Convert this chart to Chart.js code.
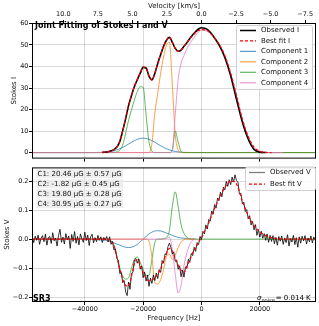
<!DOCTYPE html>
<html>
<head>
<meta charset="utf-8">
<script src="https://cdn.jsdelivr.net/npm/chart.js@4.4.1/dist/chart.umd.min.js"></script>
<style>
  html, body { margin: 0; padding: 0; background: #fff; }
  #wrap { position: relative; width: 319px; height: 326px; }
  canvas { position: absolute; left: 0; }
  #topChart { top: 0; }
  #botChart { top: 163px; }
</style>
</head>
<body>
<div id="wrap">
  <canvas id="topChart" width="319" height="163" style="width:319px;height:163px"></canvas>
  <canvas id="botChart" width="319" height="163" style="width:319px;height:163px"></canvas>
</div>
<script>
// ---- data ----
const fMin = -58100, fMax = 39250;          // frequency range of the axes [Hz]
const HZ_TO_KMS = 299792.458 / 1420405751.77; // HI line: km/s per Hz
const freqTicks = [-40000, -20000, 0, 20000];

// frequency grid for the smooth curves [Hz]
const freqGrid = [-58100, -40000, -34000, -32000, -31000, -30000, -29000, -28000, -27000, -26000,
  -25000, -24000, -23000, -22000, -21000, -20000, -19000, -18000, -17000, -16000,
  -15000, -14000, -13000, -12000, -11000, -10000, -9000, -8000, -7000, -6000,
  -5000, -4000, -3000, -2000, -1000, 0, 2000, 4000, 6000, 8000,
  10000, 12000, 14000, 16000, 18000, 20000, 22000, 24000, 28000, 39250];

// Stokes I
const obsI = [null, null, 0.1, 0.4, 0.8, 1.4, 2.6, 5.2, 10.2, 15.8,
  21.8, 26.5, 30.7, 33.9, 36.9, 39.6, 39.3, 35.5, 33.8, 36.8,
  41.4, 45.5, 49.4, 52.2, 53.5, 51.2, 48.4, 47.1, 47.6, 49.4,
  51, 53, 54.7, 56.2, 57.4, 58, 57.2, 54.2, 50, 44.2,
  35.7, 24.7, 14.2, 6.3, 1.5, 0.2, 0, null, null, null];
const fitI = [null, null, 0.1, 0.4, 0.8, 1.4, 2.6, 5.2, 10.2, 15.8,
  21.8, 26.5, 30.7, 33.9, 36.9, 39.7, 39.5, 35.6, 33.7, 36.8,
  41.4, 45.5, 49.4, 52.3, 53.7, 51.2, 48.3, 47, 47.6, 49.3,
  51, 52.9, 54.4, 55.8, 56.7, 57.1, 56.6, 54.1, 50.5, 45,
  36.8, 26.5, 15.5, 7.5, 2.5, 0.6, 0.1, 0, null, null];
const comp1I = [0, 0, 0.11, 0.33, 0.54, 0.83, 1.24, 1.77, 2.4, 3.17,
  3.97, 4.8, 5.53, 6.17, 6.56, 6.7, 6.56, 6.17, 5.53, 4.8,
  3.97, 3.17, 2.4, 1.77, 1.24, 0.83, 0.54, 0.33, 0.2, 0.11,
  0.06, 0.03, 0.01, 0, 0, 0, 0, 0, 0, 0,
  0, 0, 0, 0, 0, 0, 0, 0, 0, 0];
const comp2I = [0, 0, 0, 0, 0, 0, 0, 0, 0, 0,
  0, 0, 0, 0, 0, 0, 0, 0, 4, 18.4,
  27.5, 37, 44.4, 50, 51.3, 31.5, 8.5, 1.2, 0.1, 0,
  0, 0, 0, 0, 0, 0, 0, 0, 0, 0,
  0, 0, 0, 0, 0, 0, 0, 0, 0, 0];
const comp3I = [0, 0, 0, 0, 0, 0.05, 0.3, 1.1, 3.5, 9,
  15, 19.8, 24.5, 28.3, 30.6, 30.4, 17.4, 5, 0.7, 0,
  0, 0, 0, 0, 0, 1.3, 10, 5, 0.5, 0,
  0, 0, 0, 0, 0, 0, 0, 0, 0, 0,
  0, 0, 0, 0, 0, 0, 0, 0, 0, 0];
const comp4I = [0, 0, 0, 0, 0, 0, 0, 0, 0, 0,
  0, 0, 0, 0, 0, 0, 0, 0, 0, 0,
  0, 0, 0, 0, 0, 1, 17.7, 34, 41.5, 45,
  48.3, 50.6, 52.7, 54.5, 56, 56.9, 56.4, 54, 50.5, 45,
  36.8, 26.5, 15.5, 7.5, 2.5, 0.6, 0.1, 0, 0, null];

// Stokes V
const fitV = [0, 0, 0, -0.002, -0.007, -0.025, -0.063, -0.104, -0.138, -0.16,
  -0.162, -0.128, -0.085, -0.071, -0.09, -0.115, -0.135, -0.143, -0.141, -0.134,
  -0.12, -0.102, -0.075, -0.048, -0.032, -0.042, -0.065, -0.09, -0.108, -0.114,
  -0.093, -0.07, -0.046, -0.03, -0.01, 0.005, 0.045, 0.095, 0.14, 0.178,
  0.2, 0.19, 0.132, 0.082, 0.047, 0.025, 0.012, 0.005, 0, 0];
const comp1V = [0, 0, -0.003, -0.006, -0.009, -0.013, -0.017, -0.021, -0.025, -0.028,
  -0.029, -0.028, -0.024, -0.018, -0.009, 0, 0.009, 0.018, 0.024, 0.028,
  0.029, 0.028, 0.025, 0.021, 0.017, 0.013, 0.009, 0.006, 0.004, 0.003,
  0.002, 0.001, 0, 0, null, null, null, null, null, null,
  null, null, null, null, null, null, null, null, null, null];
const comp2V = [0, 0, 0, 0, 0, 0, 0, 0, 0, 0,
  0, 0, 0, 0, 0, 0, 0, -0.008, -0.06, -0.15,
  -0.155, -0.14, -0.105, -0.06, -0.052, -0.07, -0.055, -0.03, -0.01, -0.002,
  0, 0, 0, 0, null, null, null, null, null, null,
  null, null, null, null, null, null, null, null, null, null];
const comp3V = [0, 0, 0, 0, -0.005, -0.02, -0.06, -0.1, -0.127, -0.138,
  -0.134, -0.1, -0.07, -0.062, -0.08, -0.105, -0.125, -0.125, -0.07, -0.012,
  0, 0, 0.002, 0.006, 0.03, 0.113, 0.163, 0.113, 0.05, 0.02,
  0.006, 0.001, 0, 0, 0, 0, 0, 0, 0, 0,
  0, 0, 0, 0, 0, 0, 0, 0, 0, 0];
const comp4V = [0, 0, 0, 0, 0, 0, 0, 0, 0, 0,
  0, 0, 0, 0, 0, 0, 0, 0, 0, 0,
  0, 0, 0, 0.002, 0.006, -0.036, -0.12, -0.186, -0.16, -0.092,
  -0.048, -0.018, -0.004, 0, null, null, null, null, null, null,
  null, null, null, null, null, null, null, null, null, null];

// observed V channels: start -58000 Hz, 500 Hz apart
const obsVStart = -58000, obsVStep = 500;
const obsV = [
  0.006, -0.012, 0.01, -0.004, 0.014, -0.018, 0.003, 0.012, -0.009, 0.017,
  -0.021, 0.005, 0.009, -0.015, 0.022, -0.006, 0.004, -0.024, 0.013, 0.034,
  -0.011, 0.007, -0.017, 0.019, -0.003, 0.011, -0.032, 0.016, -0.008, 0.026,
  -0.014, 0.009, -0.02, 0.018, 0.002, -0.011, 0.024, -0.005, 0.014, -0.022,
  0.008, 0.017, -0.013, 0.005, -0.009, 0.013, -0.004, 0.008, -0.012, 0.006,
  -0.003, 0.009, -0.01, 0.008, -0.018, -0.008, -0.038, -0.034, -0.067, -0.073,
  -0.119, -0.116, -0.15, -0.143, -0.182, -0.195, -0.148, -0.173, -0.118, -0.114,
  -0.072, -0.067, -0.083, -0.069, -0.104, -0.093, -0.133, -0.114, -0.145, -0.124,
  -0.163, -0.135, -0.153, -0.124, -0.143, -0.117, -0.136, -0.105, -0.115, -0.074,
  -0.083, -0.051, -0.054, -0.026, -0.014, -0.028, -0.052, -0.044, -0.077, -0.073,
  -0.104, -0.092, -0.13, -0.107, -0.131, -0.096, -0.101, -0.069, -0.08, -0.05,
  -0.057, -0.028, -0.042, -0.012, -0.019, 0.009, -0.001, 0.027, 0.018, 0.049,
  0.035, 0.068, 0.062, 0.097, 0.086, 0.119, 0.107, 0.142, 0.133, 0.162,
  0.146, 0.179, 0.17, 0.199, 0.182, 0.205, 0.188, 0.214, 0.197, 0.222,
  0.202, 0.196, 0.156, 0.158, 0.122, 0.128, 0.095, 0.102, 0.07, 0.081,
  0.049, 0.061, 0.032, 0.05, 0.013, 0.033, 0.007, 0.027, 0.003, 0.019,
  -0.004, 0.018, -0.011, 0.013, -0.008, 0.012, -0.016, 0.006, -0.021, 0.009,
  -0.007, 0.011, -0.018, 0.004, -0.012, 0.015, -0.024, 0.002, -0.01, 0.013,
  -0.019, 0.005, -0.028, 0.008, -0.014, 0.01, -0.006, 0.012, -0.017, 0.004,
  -0.009, 0.011, -0.013, 0.007, -0.004
];

const fieldLines = ['C1: 20.46 \u03bcG \u00b1 0.57 \u03bcG', 'C2: -1.82 \u03bcG \u00b1 0.45 \u03bcG',
  'C3: 19.80 \u03bcG \u00b1 0.28 \u03bcG', 'C4: 30.95 \u03bcG \u00b1 0.27 \u03bcG'];

// ---- styles ----
const FONT = '"DejaVu Sans", sans-serif';
const C_BLUE = 'rgba(31,119,180,0.75)', C_ORANGE = 'rgba(255,127,14,0.75)';
const C_GREEN = 'rgba(44,160,44,0.75)', C_PINK = 'rgba(227,119,194,0.75)';
const GRID = 'rgba(0,0,0,0.15)';

Chart.defaults.font.family = FONT;
Chart.defaults.font.size = 6.5;
Chart.defaults.color = '#111';

const pts = (xs, ys) => xs.map((x, i) => ({ x: x, y: ys[i] }));
const obsVFreq = obsV.map((_, i) => obsVStart + i * obsVStep);

function line(label, xs, ys, color, width, order, dash) {
  return {
    label: label, data: pts(xs, ys), borderColor: color, borderWidth: width,
    borderDash: dash || [], pointRadius: 0, fill: false, order: order,
    cubicInterpolationMode: 'monotone', spanGaps: false
  };
}

const minus = s => s.replace('-', '\u2212');
// frequency axes get their ticks from freqTicks (stepSize misbehaves with these bounds)
const setFreqTicks = s => { s.ticks = freqTicks.map(v => ({ value: v })); };

// frame round the plotting area
const frame = {
  id: 'frame',
  afterDraw(chart) {
    const { ctx, chartArea: a } = chart;
    ctx.save();
    ctx.strokeStyle = '#000';
    ctx.lineWidth = 1;
    ctx.strokeRect(a.left + 0.5, a.top + 0.5, a.right - a.left - 1, a.bottom - a.top - 1);
    ctx.restore();
  }
};

function drawLegend(ctx, box, rows) {
  ctx.save();
  ctx.fillStyle = 'rgba(255,255,255,0.85)';
  ctx.strokeStyle = '#d0d0d0';
  ctx.lineWidth = 1;
  ctx.beginPath();
  ctx.roundRect(box.x + 0.5, box.y + 0.5, box.w, box.h, 2);
  ctx.fill();
  ctx.stroke();
  ctx.font = '7px ' + FONT;
  ctx.textBaseline = 'middle';
  rows.forEach((r, i) => {
    const y = box.y + box.first + i * box.gap;
    ctx.strokeStyle = r.color;
    ctx.lineWidth = r.width;
    ctx.setLineDash(r.dash || []);
    ctx.beginPath();
    ctx.moveTo(box.x + 4, y);
    ctx.lineTo(box.x + 20, y);
    ctx.stroke();
    ctx.setLineDash([]);
    ctx.fillStyle = '#111';
    ctx.fillText(r.label, box.x + 25, y);
  });
  ctx.restore();
}

const topDecor = {
  id: 'topDecor',
  afterDraw(chart) {
    const ctx = chart.ctx;
    ctx.save();
    ctx.font = 'bold 8px ' + FONT;
    ctx.fillStyle = '#000';
    ctx.textBaseline = 'middle';
    ctx.fillText('Joint Fitting of Stokes I and V', 35, 26);
    ctx.restore();
    drawLegend(ctx, { x: 236, y: 25, w: 76, h: 64, first: 5.5, gap: 10.45 }, [
      { label: 'Observed I', color: '#000', width: 1.5 },
      { label: 'Best fit I', color: '#ff0000', width: 1.2, dash: [3, 2] },
      { label: 'Component 1', color: C_BLUE, width: 1.2 },
      { label: 'Component 2', color: C_ORANGE, width: 1.2 },
      { label: 'Component 3', color: C_GREEN, width: 1.2 },
      { label: 'Component 4', color: C_PINK, width: 1.2 }
    ]);
  }
};

const botDecor = {
  id: 'botDecor',
  afterDraw(chart) {
    const ctx = chart.ctx;
    ctx.save();
    ctx.font = '7px ' + FONT;
    ctx.textBaseline = 'middle';
    fieldLines.forEach((t, i) => {
      const y = 10.7 + i * 10;
      ctx.fillStyle = 'rgba(232,232,232,0.75)';
      ctx.fillRect(36.5, y - 4.5, 86.5, 9);
      ctx.fillStyle = '#111';
      ctx.fillText(t, 37.5, y);
    });
    ctx.font = 'bold 8px ' + FONT;
    ctx.fillStyle = '#000';
    ctx.fillText('SR3', 33, 136);
    // sigma_noise label
    let x = 257;
    ctx.font = 'italic 7px ' + FONT;
    ctx.fillText('\u03c3', x, 135.5);
    x += ctx.measureText('\u03c3').width;
    ctx.font = 'italic 5px ' + FONT;
    ctx.fillText('noise', x, 137.5);
    x += ctx.measureText('noise').width + 1;
    ctx.font = '7px ' + FONT;
    ctx.fillText('= 0.014 K', x, 135.5);
    ctx.restore();
    drawLegend(ctx, { x: 245, y: 3.5, w: 70, h: 23.5, first: 6, gap: 11.7 }, [
      { label: 'Observed V', color: 'rgba(0,0,0,0.5)', width: 1.3 },
      { label: 'Best fit V', color: '#ff0000', width: 1.2, dash: [3, 2] }
    ]);
  }
};

const baseOpts = {
  responsive: false, animation: false, events: [],
  plugins: { legend: { display: false }, tooltip: { enabled: false } }
};

// ---- top panel: Stokes I ----
new Chart(document.getElementById('topChart'), {
  type: 'line',
  data: {
    datasets: [
      line('Best fit I', freqGrid, fitI, '#ff0000', 1.2, 0, [3, 2]),
      line('Observed I', freqGrid, obsI, '#000', 1.6, 1),
      line('Component 4', freqGrid, comp4I, C_PINK, 1, 2),
      line('Component 3', freqGrid, comp3I, C_GREEN, 1, 3),
      line('Component 2', freqGrid, comp2I, C_ORANGE, 1, 4),
      line('Component 1', freqGrid, comp1I, C_BLUE, 1, 5)
    ]
  },
  options: {
    ...baseOpts,
    layout: { padding: { left: 0, right: 3, top: 0, bottom: 0 }, autoPadding: false },
    scales: {
      x: {
        type: 'linear', position: 'bottom', min: fMin, max: fMax,
        afterBuildTicks: setFreqTicks,
        afterFit: s => { s.height = 3; },
        ticks: { display: false },
        grid: { color: GRID, tickColor: '#000', tickLength: 3 },
        border: { display: false }
      },
      x2: {
        type: 'linear', axis: 'x', position: 'top', reverse: true,
        min: -fMax * HZ_TO_KMS, max: -fMin * HZ_TO_KMS,
        afterFit: s => { s.height = 23; },
        ticks: {
          stepSize: 2.5, includeBounds: false, maxRotation: 0, autoSkip: false, padding: 1.6,
          callback: v => Math.abs(v) < 1e-9 ? '0.0' : minus(v.toFixed(1))
        },
        grid: { drawOnChartArea: false, tickColor: '#000', tickLength: 3 },
        border: { display: false },
        title: { display: true, text: 'Velocity [km/s]', font: { size: 7 }, padding: { top: 2.3, bottom: 0 } }
      },
      y: {
        type: 'linear', position: 'left', min: -2.8, max: 60.2,
        afterFit: s => { s.width = 32; },
        ticks: { stepSize: 10, includeBounds: false, padding: 0.5 },
        grid: { color: GRID, tickColor: '#000', tickLength: 3 },
        border: { display: false },
        title: { display: true, text: 'Stokes I', font: { size: 7 }, padding: { top: 10, bottom: 0 } }
      }
    }
  },
  plugins: [frame, topDecor]
});

// ---- bottom panel: Stokes V ----
new Chart(document.getElementById('botChart'), {
  type: 'line',
  data: {
    datasets: [
      line('Best fit V', freqGrid, fitV, '#ff0000', 1.2, 0, [3, 2]),
      Object.assign(line('Observed V', obsVFreq, obsV, 'rgba(0,0,0,0.8)', 1, 1), { cubicInterpolationMode: 'default', tension: 0 }),
      line('Component 4', freqGrid, comp4V, C_PINK, 1, 2),
      line('Component 2', freqGrid, comp2V, C_ORANGE, 1, 3),
      line('Component 3', freqGrid, comp3V, C_GREEN, 1, 4),
      line('Component 1', freqGrid, comp1V, C_BLUE, 1, 5)
    ]
  },
  options: {
    ...baseOpts,
    layout: { padding: { left: 0, right: 3, top: 1, bottom: 0 }, autoPadding: false },
    scales: {
      x: {
        type: 'linear', position: 'bottom', min: fMin, max: fMax,
        afterBuildTicks: setFreqTicks,
        afterFit: s => { s.height = 24; },
        ticks: {
          maxRotation: 0, autoSkip: false, padding: 0,
          callback: v => minus(String(v))
        },
        grid: { color: GRID, tickColor: '#000', tickLength: 3 },
        border: { display: false },
        title: { display: true, text: 'Frequency [Hz]', font: { size: 7 }, padding: { top: 0, bottom: 3.3 } }
      },
      y: {
        type: 'linear', position: 'left', min: -0.217, max: 0.2475,
        afterFit: s => { s.width = 32; },
        ticks: {
          stepSize: 0.1, includeBounds: false, padding: 0.5,
          callback: v => Math.abs(v) < 1e-9 ? '0.0' : minus(v.toFixed(1))
        },
        grid: { color: GRID, tickColor: '#000', tickLength: 3 },
        border: { display: false },
        title: { display: true, text: 'Stokes V', font: { size: 7 }, padding: { top: 2.8, bottom: 0 } }
      }
    }
  },
  plugins: [frame, botDecor]
});
</script>
</body>
</html>
